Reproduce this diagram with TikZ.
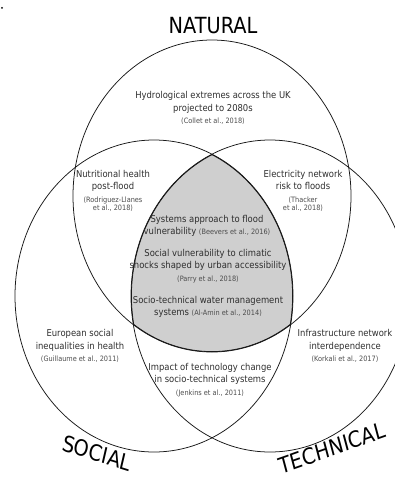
\documentclass[tikz,border=0pt]{standalone}
\usepackage{fontspec}
\setmainfont{DejaVu Sans}

\def\paper{\fontsize{5.6}{7.6}\selectfont\color{black!70}}

\begin{document}
\begin{tikzpicture}[x=0.03cm, y=-0.03cm,
	natural/.style={insert path={(212,196) ellipse [x radius=\rx, y radius=\ry]}},
	social/.style={insert path={(154,296) ellipse [x radius=\rx, y radius=\ry]}},
	technical/.style={insert path={(270,296) ellipse [x radius=\rx, y radius=\ry]}},
	topic/.style={align=center, yscale=1.12, text=black!82, font=\fontsize{7.2}{9.5}\selectfont},
	title/.style={yscale=1.15, font=\fontsize{16.5}{18}\selectfont}]
	\def \rx {139}
	\def \ry {156}

	\useasboundingbox (0,0) rectangle (395,478);
	\fill (2,8) circle (1);

	% shared area of all three
	\begin{scope}
		\clip[natural];
		\clip[social];
		\clip[technical];
		\fill[black!19, natural];
		\draw[line width=1.4pt, black!90, natural];
		\draw[line width=1.4pt, black!90, social];
		\draw[line width=1.4pt, black!90, technical];
	\end{scope}

	\draw[line width=0.65pt, black!90, natural];
	\draw[line width=0.65pt, black!90, social];
	\draw[line width=0.65pt, black!90, technical];

	\node[title] (nat) at (213,26) {NATURAL};
	\node[title, rotate=-15] (soc) at (97,453) {SOCIAL};
	\node[title, rotate=17] (tech) at (332,448) {TECHNICAL};

	\node[topic] (hydro) at (213,108)
		{Hydrological extremes across the UK\\projected to 2080s\\{\paper (Collet et al., 2018)}};
	\node[topic] (nutrition) at (113,191)
		{Nutritional health\\post-flood\\{\paper (Rodriguez-Llanes}\\[-3pt]{\paper et al., 2018)}};
	\node[topic] (electricity) at (303,191)
		{Electricity network\\risk to floods\\{\paper (Thacker}\\[-3pt]{\paper et al., 2018)}};
	\node[topic] (systems) at (207,226)
		{Systems approach to flood\\vulnerability {\paper (Beevers et al., 2016)}};
	\node[topic] (urban) at (208,266)
		{Social vulnerability to climatic\\shocks shaped by urban accessibility\\{\paper (Parry et al., 2018)}};
	\node[topic] (water) at (208,307)
		{Socio-technical water management\\systems {\paper (Al-Amin et al., 2014)}};
	\node[topic] (europe) at (80,346)
		{European social\\inequalities in health\\{\paper (Guillaume et al., 2011)}};
	\node[topic] (infra) at (345,346)
		{Infrastructure network\\interdependence\\{\paper (Korkali et al., 2017)}};
	\node[topic] (change) at (210,380)
		{Impact of technology change\\in socio-technical systems\\{\paper (Jenkins et al., 2011)}};
\end{tikzpicture}
\end{document}
